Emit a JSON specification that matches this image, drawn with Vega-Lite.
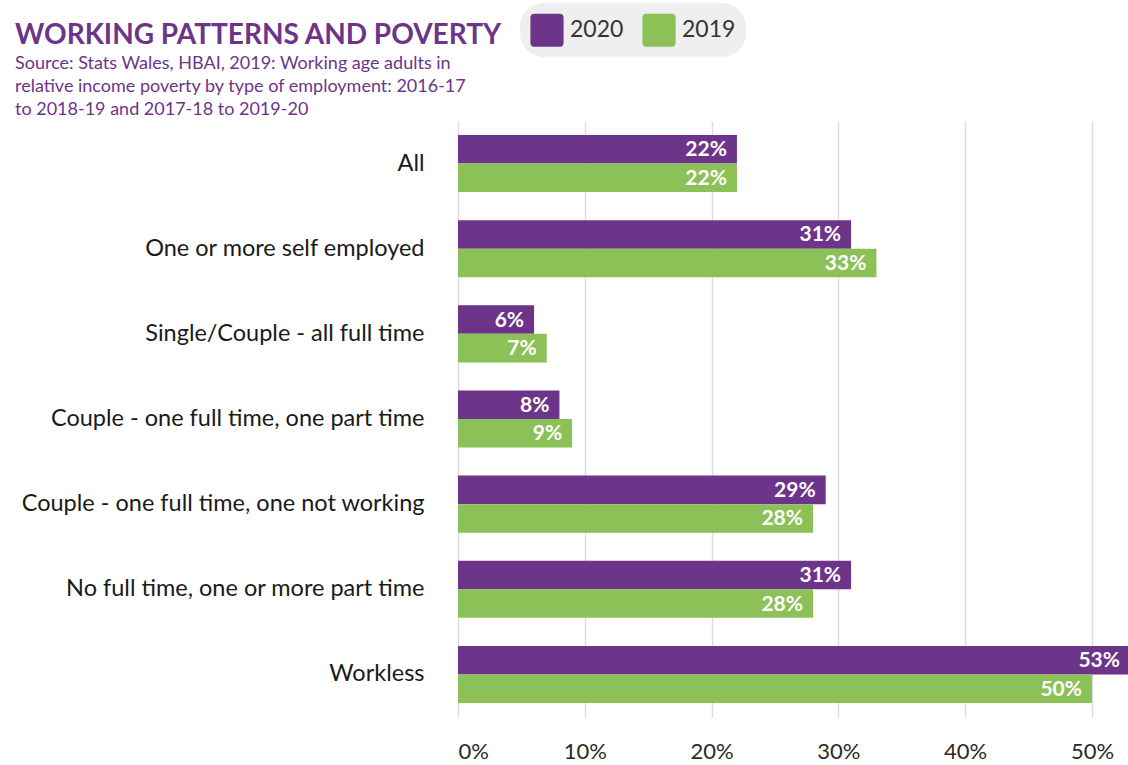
{
  "$schema": "https://vega.github.io/schema/vega-lite/v6.json",
  "autosize": "none",
  "width": 672,
  "height": 596,
  "padding": {"left": 458, "top": 121, "right": 0, "bottom": 48},
  "background": "white",
  "config": {
    "font": "Lato",
    "view": {"stroke": null}
  },
  "title": {
    "text": "WORKING PATTERNS AND POVERTY",
    "subtitle": ["Source: Stats Wales, HBAI, 2019: Working age adults in", "relative income poverty by type of employment: 2016-17", "to 2018-19 and 2017-18 to 2019-20"],
    "anchor": "start",
    "frame": "group",
    "dx": -443,
    "dy": 122,
    "offset": 6,
    "font": "Lato",
    "fontSize": 28,
    "fontWeight": "bold",
    "color": "#6c3589",
    "subtitleFont": "Lato",
    "subtitleFontSize": 18,
    "subtitleColor": "#6c3589",
    "subtitleLineHeight": 23,
    "subtitlePadding": 5
  },
  "data": {
    "values": [
      {"cat": "All", "year": "2020", "value": 0.22},
      {"cat": "All", "year": "2019", "value": 0.22},
      {"cat": "One or more self employed", "year": "2020", "value": 0.31},
      {"cat": "One or more self employed", "year": "2019", "value": 0.33},
      {"cat": "Single/Couple - all full time", "year": "2020", "value": 0.06},
      {"cat": "Single/Couple - all full time", "year": "2019", "value": 0.07},
      {"cat": "Couple - one full time, one part time", "year": "2020", "value": 0.08},
      {"cat": "Couple - one full time, one part time", "year": "2019", "value": 0.09},
      {"cat": "Couple - one full time, one not working", "year": "2020", "value": 0.29},
      {"cat": "Couple - one full time, one not working", "year": "2019", "value": 0.28},
      {"cat": "No full time, one or more part time", "year": "2020", "value": 0.31},
      {"cat": "No full time, one or more part time", "year": "2019", "value": 0.28},
      {"cat": "Workless", "year": "2020", "value": 0.53},
      {"cat": "Workless", "year": "2019", "value": 0.50}
    ]
  },
  "encoding": {
    "y": {
      "field": "cat",
      "type": "nominal",
      "sort": null,
      "scale": {"paddingInner": 0.33, "paddingOuter": 0.165},
      "axis": {
        "title": null,
        "ticks": false,
        "tickSize": 0,
        "domain": false,
        "labelPadding": 34,
        "labelFontSize": 23.5,
        "labelColor": "#1a1a1a",
        "labelFont": "Lato",
        "labelLimit": 500
      }
    },
    "yOffset": {"field": "year", "type": "nominal", "sort": ["2020", "2019"], "scale": {"paddingInner": 0}},
    "x": {
      "field": "value",
      "type": "quantitative",
      "scale": {"domain": [0, 0.53], "nice": false},
      "axis": {
        "title": null,
        "values": [0, 0.1, 0.2, 0.3, 0.4, 0.5],
        "format": ".0%",
        "ticks": false,
        "tickSize": 0,
        "domain": false,
        "grid": true,
        "gridColor": "#dddddd",
        "gridWidth": 1.5,
        "labelPadding": 24,
        "labelFontSize": 22,
        "labelColor": "#2a2a2a",
        "labelFont": "Lato"
      }
    }
  },
  "layer": [
    {
      "mark": {"type": "bar", "clip": false},
      "encoding": {
        "color": {
          "field": "year",
          "type": "nominal",
          "scale": {"domain": ["2020", "2019"], "range": ["#6c3589", "#8bc157"]},
          "legend": {
            "title": null,
            "orient": "none",
            "legendX": 62,
            "legendY": -118,
            "direction": "horizontal",
            "fillColor": "#efefef",
            "cornerRadius": 24,
            "padding": 10,
            "symbolType": "M-0.75,-1 H0.75 Q1,-1 1,-0.75 V0.75 Q1,1 0.75,1 H-0.75 Q-1,1 -1,0.75 V-0.75 Q-1,-1 -0.75,-1 Z",
            "symbolSize": 1100,
            "symbolStrokeWidth": 0,
            "symbolOpacity": 1,
            "labelFontSize": 23,
            "labelColor": "#333333",
            "labelFont": "Lato",
            "labelOffset": 6,
            "columnPadding": 18
          }
        }
      }
    },
    {
      "mark": {"type": "text", "align": "right", "baseline": "middle", "dx": -10, "dy": 1, "fontSize": 21, "fontWeight": "bold", "color": "white", "font": "Lato"},
      "encoding": {
        "text": {"field": "value", "type": "quantitative", "format": ".0%"},
        "detail": {"field": "year"}
      }
    }
  ]
}
